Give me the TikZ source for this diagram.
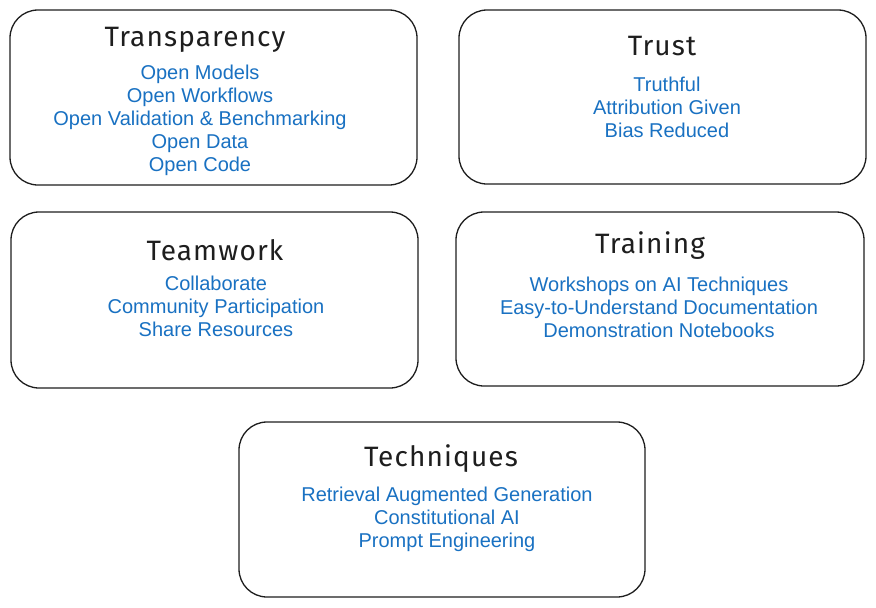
\documentclass[tikz,border=0pt]{standalone}
\usepackage{fontspec}
\setmainfont{Liberation Sans}
\newfontfamily\titlefont[LetterSpace=4]{Fira Sans}
\definecolor{exblue}{HTML}{1971C2}
\definecolor{exblack}{HTML}{1E1E1E}
\tikzset{
  box/.style={draw=exblack, line width=1.3pt, rounded corners=28pt, fill=white, inner sep=0pt},
  ttl/.style={text=exblack, font=\titlefont\fontsize{28}{30}\selectfont, inner sep=0pt, anchor=center},
  body/.style={text=exblue, font=\fontsize{20}{23}\selectfont, align=center, inner sep=0pt, anchor=north},
}
\begin{document}
\begin{tikzpicture}[x=1pt,y=-1pt]
\useasboundingbox (0,0) rectangle (876,608);
% boxes
\node[box, minimum width=407pt, minimum height=175pt] (b1) at (213.5,97.5) {};
\node[box, minimum width=407pt, minimum height=174pt] (b2) at (662.5,97) {};
\node[box, minimum width=407pt, minimum height=176pt] (b3) at (214.5,300) {};
\node[box, minimum width=408pt, minimum height=174pt] (b4) at (660,299) {};
\node[box, minimum width=406pt, minimum height=175pt] (b5) at (442,509.5) {};
% titles
\node[ttl] (t1) at (195,40) {Transparency};
\node[ttl] (t2) at (662,46) {Trust};
\node[ttl] (t3) at (215,250) {Teamwork};
\node[ttl] (t4) at (650,246) {Training};
\node[ttl] (t5) at (441,459) {Techniques};
% bodies
\node[body] (l1) at (200,64.5) {Open Models\\Open Workflows\\Open Validation \& Benchmarking\\Open Data\\Open Code};
\node[body] (l2) at (667,76.5) {Truthful\\Attribution Given\\Bias Reduced};
\node[body] (l3) at (216,275.5) {Collaborate\\Community Participation\\Share Resources};
\node[body] (l4) at (659,276.5) {Workshops on AI Techniques\\Easy-to-Understand Documentation\\Demonstration Notebooks};
\node[body] (l5) at (447,486.5) {Retrieval Augmented Generation\\Constitutional AI\\Prompt Engineering};
\end{tikzpicture}
\end{document}
